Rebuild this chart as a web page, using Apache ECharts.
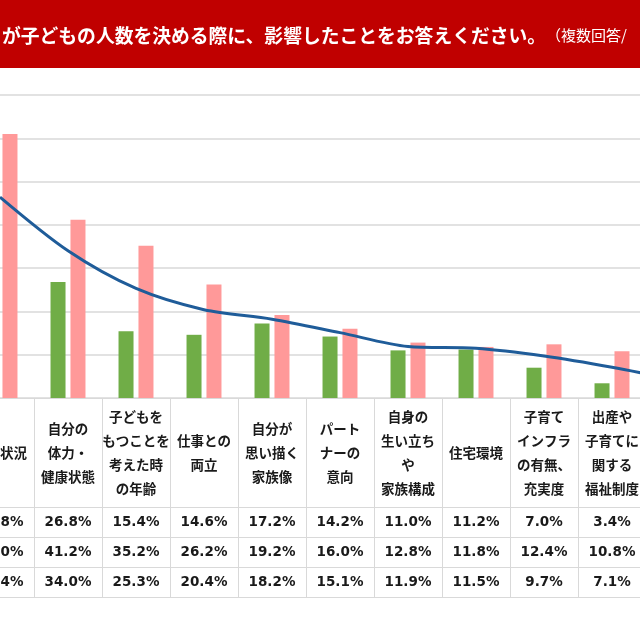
<!DOCTYPE html>
<html>
<head>
<meta charset="utf-8">
<script src="https://cdn.jsdelivr.net/npm/echarts@6/dist/echarts.min.js"></script>
<style>
  html, body { margin: 0; padding: 0; background: #fff; overflow: hidden; width: 640px; height: 640px; }
  /* 元画像は左右が切れているので、チャートを広めに描いて左へずらす */
  #main { position: absolute; left: -34px; top: 0; width: 748px; height: 640px; }
</style>
</head>
<body>
<div id="main"></div>
<script>
// 項目（左端・右端は画像で切れている）
var categories = ['経済状況', '自分の\n体力・\n健康状態', '子どもを\nもつことを\n考えた時\nの年齢', '仕事との\n両立',
    '自分が\n思い描く\n家族像', 'パート\nナーの\n意向', '自身の\n生い立ち\nや\n家族構成', '住宅環境',
    '子育て\nインフラ\nの有無、\n充実度', '出産や\n子育てに\n関する\n福祉制度', 'その他'];
var male = [31.8, 26.8, 15.4, 14.6, 17.2, 14.2, 11.0, 11.2, 7.0, 3.4, 2.4];
var female = [61.0, 41.2, 35.2, 26.2, 19.2, 16.0, 12.8, 11.8, 12.4, 10.8, 5.6];
var total = [46.4, 34.0, 25.3, 20.4, 18.2, 15.1, 11.9, 11.5, 9.7, 7.1, 4.0];

var cjk = '"Noto Sans CJK JP", sans-serif';
var lineColor = '#d9d9d9';

function pct(arr) {
    return function (v, i) { return arr[i].toFixed(1) + '%'; };
}
// 表の行（データテーブル）
function tableAxis(offset, arr) {
    return {
        type: 'category', data: categories, position: 'bottom', offset: offset,
        axisLine: { lineStyle: { color: lineColor, width: 1 } },
        axisTick: { show: false },
        axisLabel: {
            show: !!arr, interval: 0, margin: 15, verticalAlign: 'middle',
            formatter: arr ? pct(arr) : '', color: '#1a1a1a',
            fontFamily: '"DejaVu Sans", sans-serif', fontWeight: 'bold', fontSize: 13.5
        }
    };
}

var myChart = echarts.init(document.getElementById('main'));
var option = {
    backgroundColor: '#fff',
    animation: false,
    title: {
        text: 'が子どもの人数を決める際に、影響したことをお答えください。{s|（複数回答/}',
        left: 31, top: 21,
        textStyle: {
            color: '#fff', fontFamily: cjk, fontWeight: 'bold', fontSize: 18.8,
            rich: { s: { color: '#fff', fontFamily: cjk, fontWeight: 'normal', fontSize: 15 } }
        }
    },
    graphic: [{
        type: 'rect', left: 0, top: 0, z: -1,
        shape: { width: 748, height: 68 },
        style: { fill: '#c00000' }
    }],
    grid: { left: 0, right: 0, top: 95, bottom: 242 },
    xAxis: [{
        type: 'category', data: categories, position: 'bottom',
        axisLine: { lineStyle: { color: lineColor } },
        axisTick: { show: true, interval: 0, length: 199, lineStyle: { color: lineColor } },
        axisLabel: {
            interval: 0, margin: 55, verticalAlign: 'middle', align: 'center',
            color: '#1a1a1a', fontFamily: cjk, fontWeight: 'bold', fontSize: 13.5, lineHeight: 24
        }
    },
        tableAxis(109, male),
        tableAxis(139, female),
        tableAxis(169, total),
        tableAxis(199, null)
    ],
    yAxis: {
        type: 'value', min: 0, max: 70, interval: 10,
        axisLabel: { show: false },
        axisLine: { show: false },
        axisTick: { show: false },
        splitLine: { lineStyle: { color: lineColor, width: 1.5 } }
    },
    series: [{
        name: '男性', type: 'bar', data: male, barWidth: 15, barGap: '33%',
        itemStyle: { color: '#70ad47' }
    }, {
        name: '女性', type: 'bar', data: female, barWidth: 15,
        itemStyle: { color: '#ff9999' }
    }, {
        name: '全体', type: 'line', data: total, smooth: 0.3, symbol: 'none', z: 5,
        lineStyle: { color: '#1f5c99', width: 3 }
    }]
};
myChart.setOption(option);
</script>
</body>
</html>
